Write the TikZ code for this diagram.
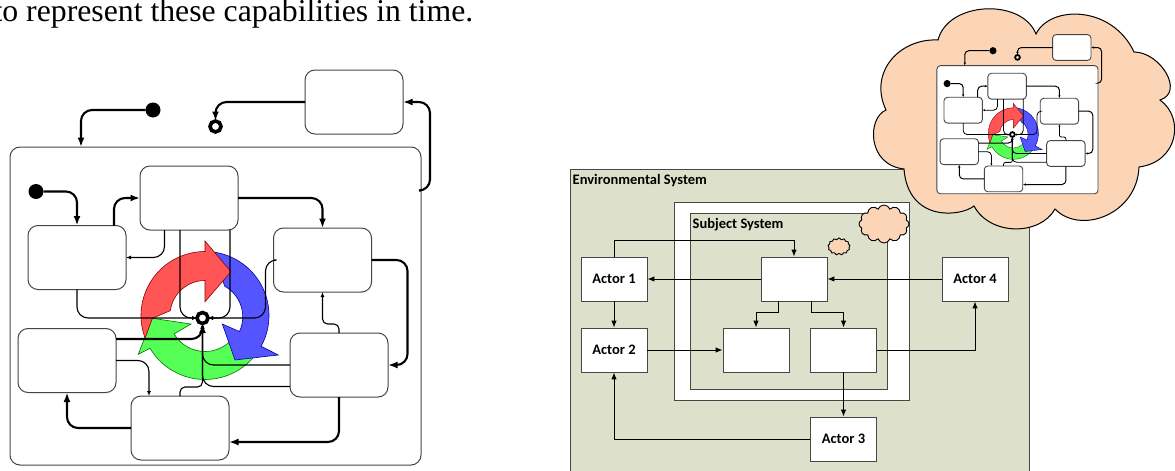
\documentclass[tikz,border=0pt]{standalone}
\usepackage{fontspec}
\setmainfont{Liberation Serif}
\newfontfamily\calibrifont{Carlito}
\usetikzlibrary{arrows.meta}
\usetikzlibrary{positioning}
\usetikzlibrary{shapes.symbols}
\usetikzlibrary{calc}
\definecolor{envgreen}{RGB}{221,224,203}
\definecolor{peach}{RGB}{251,213,181}
\definecolor{ringred}{RGB}{255,85,85}
\definecolor{ringblue}{RGB}{85,85,255}
\definecolor{ringgreen}{RGB}{85,255,85}
\definecolor{boxgray}{RGB}{70,70,70}
\tikzset{
  statebox/.style={draw=boxgray,fill=white,rounded corners=10pt,line width=1pt,transform shape,inner sep=0pt,outer sep=0pt,minimum width=98pt,minimum height=64pt},
  startdot/.style={circle,fill=black,transform shape,inner sep=0pt,outer sep=0pt,minimum size=15pt},
  enddot/.style={circle,draw=black,fill=white,line width=3.6pt,transform shape,inner sep=0pt,outer sep=0pt,minimum size=11pt},
  thinedge/.style={draw=black,line width=1.1pt,rounded corners=11pt,-{Latex[length=5pt,width=4pt]}},
  thickedge/.style={draw=black,line width=2.1pt,rounded corners=11pt,-{Latex[length=9.5pt,width=7pt]}},
  tightedge/.style={rounded corners=5pt},
  ringline/.style={line width=0.6pt},
  minichart/.style={
    statebox/.append style={rounded corners=3.5pt,line width=0.9pt},
    startdot/.append style={minimum size=18pt},
    enddot/.append style={line width=1.8pt,minimum size=12pt},
    thinedge/.style={draw=black,line width=0.8pt,rounded corners=4pt,-{Latex[length=2.5pt,width=2pt]}},
    thickedge/.style={draw=black,line width=1pt,rounded corners=4pt,-{Latex[length=3pt,width=2.4pt]}},
    tightedge/.style={rounded corners=2pt},
    ringline/.style={line width=0.4pt},
  },
  actorbox/.style={draw=boxgray,fill=white,line width=0.8pt,minimum width=66pt,minimum height=44pt,inner sep=0pt,font=\calibrifont\bfseries\fontsize{14.5}{14.5}\selectfont},
  flowedge/.style={draw=black,line width=1pt,-{Latex[length=7pt,width=5.5pt]}},
  cloudbox/.style={cloud,draw=black,fill=peach,line width=0.9pt,inner sep=0pt,cloud puff arc=140},
  statechart/.pic={
    %OUTER STATE
    \node[statebox] (-outer) at (215.5,306) [minimum width=411pt,minimum height=318pt] {};
    %RING
    \begin{scope}[shift={(205,315.5)},y=1pt]
      \draw[fill=ringgreen,draw=green!45!black,ringline] (-41.5:64) arc[start angle=-41.5,end angle=-149.2,radius=64pt]
        -- (-66.7,-38.8) -- (-52.7,-2.8) -- (-14,-8.5) -- (-149.2:36) arc[start angle=-149.2,end angle=-46,radius=36pt] -- cycle;
      \draw[fill=ringblue,draw=blue!60!black,ringline] (81:64) arc[start angle=81,end angle=-28.8,radius=64pt]
        -- (73.3,-39.5) -- (30,-44.5) -- (17.3,-8.5) -- (-25:38) arc[start angle=-25,end angle=61.3,radius=35pt] -- cycle;
      \draw[fill=ringred,draw=red!55!black,ringline] (200.7:64) arc[start angle=200.7,end angle=90,radius=64pt]
        -- (0,74.5) -- (26,43.8) -- (0,13.8) -- (90:35) arc[start angle=90,end angle=172,radius=35pt] -- (-52.7,-2.8) -- cycle;
    \end{scope}
    %STATES
    \node[statebox] (-super) at (354,102) {};
    \node[statebox] (-top) at (189,198) {};
    \node[statebox] (-left) at (77,257.5) {};
    \node[statebox] (-right) at (322.5,260) {};
    \node[statebox] (-ll) at (67,360.5) {};
    \node[statebox] (-lr) at (339,365) {};
    \node[statebox] (-bottom) at (180,428) {};
    \node[startdot] (-ostart) at (153,110) {};
    \node[startdot] (-istart) at (36,191.5) {};
    \node[enddot] (-stop) at (215.5,126.5) {};
    \node[enddot] (-hub) at (202.5,318) {};
    %THICK EDGES
    \draw[thickedge] (-ostart.west) -| ($(-outer.north)+(-134.5,0)$);
    \draw[thickedge] (-super.west) -| (-stop.north);
    \draw[thickedge] (-outer.east) ++(0,-115.5) -- ++(9,0) |- (-super.east);
    \draw[thickedge] (-istart.east) -| (-left.north);
    \draw[thickedge] (-left.north) ++(37,0) |- (-top.west);
    \draw[thickedge] (-top.east) -| (-right.north);
    \draw[thickedge] (-right.east) -- ++(36,0) |- (-lr.east);
    \draw[thickedge] (-lr.south) |- ($(-bottom.east)+(0,14)$);
    \draw[thickedge] (-bottom.west) -| (-ll.south);
    \draw[thickedge] (-ll.east) ++(0,-21.5) -| (-hub.south);
    %THIN EDGES
    \draw[thinedge] (-top.south) ++(-24.5,0) |- (-left.east);
    \draw[thinedge] (-top.south) ++(-9,0) |- (-hub.west);
    \draw[thinedge] (-top.south) ++(41,0) |- (-hub.east);
    \draw[thinedge] (-left.south) |- (-hub.west);
    \draw[thinedge] (-right.west) -- ++(-8,0) |- (-hub.east);
    \draw[thinedge,tightedge] (-lr.north) -- ++(0,-9) -| (-right.south);
    \draw[thinedge] (-lr.west) -| (-hub.south);
    \draw[thinedge] (-lr.west) ++(0,21.5) -| (-hub.south);
    \draw[thinedge,tightedge] (-bottom.north) -- ++(0,-9) -| (-hub.south);
    \draw[thinedge] (-ll.east) -| ($(-bottom.north)+(-31,0)$);
  },
}
\begin{document}
\begin{tikzpicture}[x=1pt,y=-1pt]
  \clip (0,0) rectangle (1175,471);
  %LABEL
  \node[anchor=base west,inner sep=0pt,font=\fontsize{31.75}{32}\selectfont] (caption) at (-6.6,21) {to represent these capabilities in time.};
  %LEFT CHART
  \pic (main) at (0,0) {statechart};
  %ENVIRONMENT
  \draw[draw=boxgray,fill=envgreen,line width=0.9pt] (570,169) rectangle (1029,480);
  \node[anchor=west,inner sep=0pt,font=\calibrifont\bfseries\fontsize{14.5}{14.5}\selectfont] (envlabel) at (572.5,180.5) {Environmental System};
  \draw[draw=boxgray,fill=white,line width=0.9pt] (674,202) rectangle (909,400);
  \draw[draw=boxgray,fill=envgreen,line width=0.9pt] (690,213) rectangle (887,389);
  \node[anchor=west,inner sep=0pt,font=\calibrifont\bfseries\fontsize{14.5}{14.5}\selectfont] (sublabel) at (692.5,224.5) {Subject System};
  %BLOCKS
  \node[actorbox] (A1) at (614,279) {Actor 1};
  \node[actorbox] (A2) at (614,350) {Actor 2};
  \node[actorbox] (A3) at (843.5,439) {Actor 3};
  \node[actorbox] (A4) at (975,279) {Actor 4};
  \node[actorbox] (core) at (794,279) {};
  \node[actorbox] (subl) at (756,350) {};
  \node[actorbox] (subr) at (843.5,350) {};
  %CONNECTIONS
  \draw[flowedge] (A1.north) -- ++(0,-16) -| (core.north);
  \draw[flowedge] (core.west) -- (A1.east);
  \draw[flowedge] (A4.west) -- (core.east);
  \draw[flowedge] (core.south) ++(-16,0) -- ++(0,11) -| (subl.north);
  \draw[flowedge] (core.south) ++(17,0) -- ++(0,11) -| (subr.north);
  \draw[flowedge] (A1.south) -- (A2.north);
  \draw[flowedge] (A2.east) -- (subl.west);
  \draw[flowedge] (subr.east) -| (A4.south);
  \draw[flowedge] (subr.south) -- (A3.north);
  \draw[flowedge] (A3.west) -| (A2.south);
  %CLOUDS
  \node[cloudbox,cloud puffs=12,aspect=1.3,minimum width=50pt,minimum height=38pt] (cloudm) at (884,224) {};
  \node[cloudbox,cloud puffs=13,aspect=1.3,minimum width=22pt,minimum height=17pt] (clouds) at (839,246.5) {};
  \draw[draw=black,fill=peach,line width=1pt] (938,40)
    .. controls (948,1) and (1022,-2) .. (1036,34)
    .. controls (1050,5) and (1112,5) .. (1134,52)
    .. controls (1160,52) and (1185,92) .. (1160,100)
    .. controls (1185,118) and (1178,162) .. (1139,167)
    .. controls (1137,215) and (1080,235) .. (1055,209)
    .. controls (1040,236) and (990,236) .. (974,206)
    .. controls (960,217) and (908,222) .. (904,169)
    .. controls (867,165) and (867,118) .. (886,110)
    .. controls (868,72) and (900,38) .. (938,40) -- cycle;
  %CHART IN CLOUD
  \pic[minichart,xscale=0.392,yscale=0.403] (mini) at (933,6.4) {statechart};
\end{tikzpicture}
\end{document}
